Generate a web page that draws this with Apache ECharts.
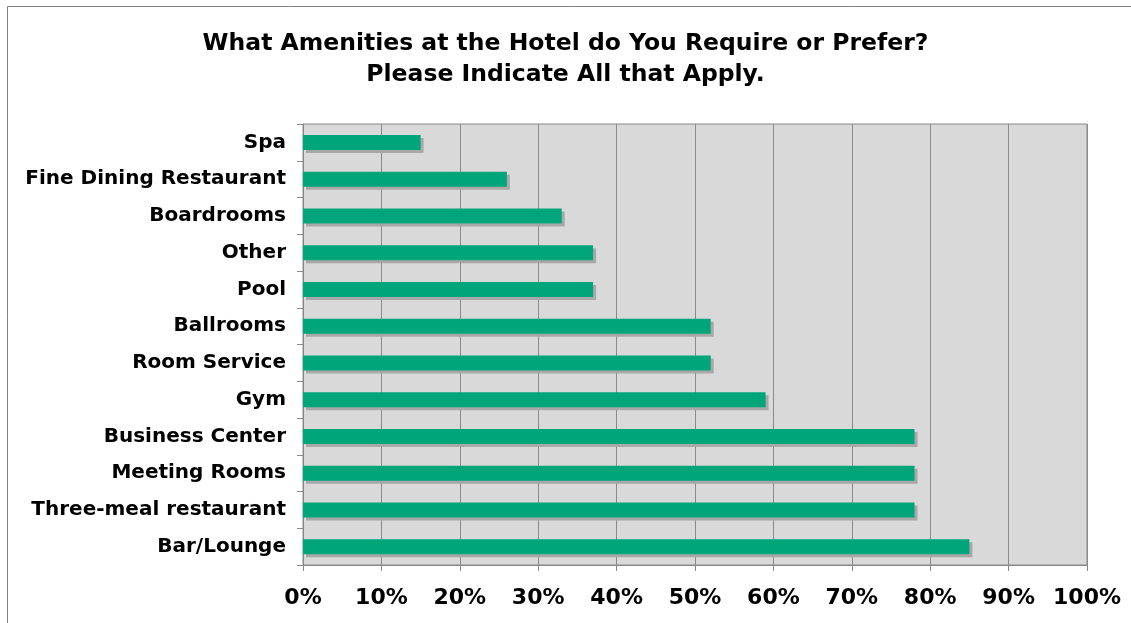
<!DOCTYPE html>
<html><head><meta charset="utf-8">
<script src="https://cdn.jsdelivr.net/npm/echarts@6/dist/echarts.min.js"></script>
<style>html,body{margin:0;padding:0;background:#fff}#c{width:1131px;height:623px}</style>
</head><body><div id="c"></div>
<script>
const titleLines = ["What Amenities at the Hotel do You Require or Prefer?", "Please Indicate All that Apply."];
const categories = ["Spa","Fine Dining Restaurant","Boardrooms","Other","Pool","Ballrooms","Room Service","Gym","Business Center","Meeting Rooms","Three-meal restaurant","Bar/Lounge"];
const values = [15,26,33,37,37,52,52,59,78,78,78,85];
const xTicks = [0,10,20,30,40,50,60,70,80,90,100];

const font = "DejaVu Sans";
const chart = echarts.init(document.getElementById('c'));
chart.setOption({
  animation: false,
  backgroundColor: '#fff',
  graphic: [{type:'rect', shape:{x:7.5,y:6.5,width:1200,height:700}, style:{fill:'none', stroke:'#808080', lineWidth:1}, silent:true}],
  title: {
    text: titleLines.join('\n'),
    left: 'center', top: 23,
    textStyle: {fontFamily: font, fontWeight: 'bold', fontSize: 23.5, color: '#000', lineHeight: 31}
  },
  grid: {left: 303, right: 44, top: 124, bottom: 58, show: true, backgroundColor: '#d9d9d9', borderColor: '#888', borderWidth: 1},
  xAxis: {
    type: 'value', min: 0, max: 100, interval: 10,
    axisLine: {show: true, lineStyle: {color: '#888'}},
    axisTick: {show: true, length: 6, lineStyle: {color: '#888'}},
    splitLine: {show: true, lineStyle: {color: '#8a8a8a', width: 1}},
    axisLabel: {formatter: v => xTicks.includes(v) ? v + '%' : '', fontFamily: font, fontWeight: 'bold', fontSize: 22, color: '#000', margin: 22}
  },
  yAxis: {
    type: 'category', data: categories, inverse: true,
    axisLine: {show: true, lineStyle: {color: '#888'}},
    axisTick: {show: true, length: 6, lineStyle: {color: '#888'}},
    axisLabel: {fontFamily: font, fontWeight: 'bold', fontSize: 20, color: '#000', margin: 17}
  },
  series: [{
    type: 'bar', data: values, barWidth: 15,
    itemStyle: {color: '#00a67a', shadowColor: 'rgba(165,165,165,0.95)', shadowOffsetX: 3, shadowOffsetY: 3, shadowBlur: 0}
  }]
});
</script></body></html>
